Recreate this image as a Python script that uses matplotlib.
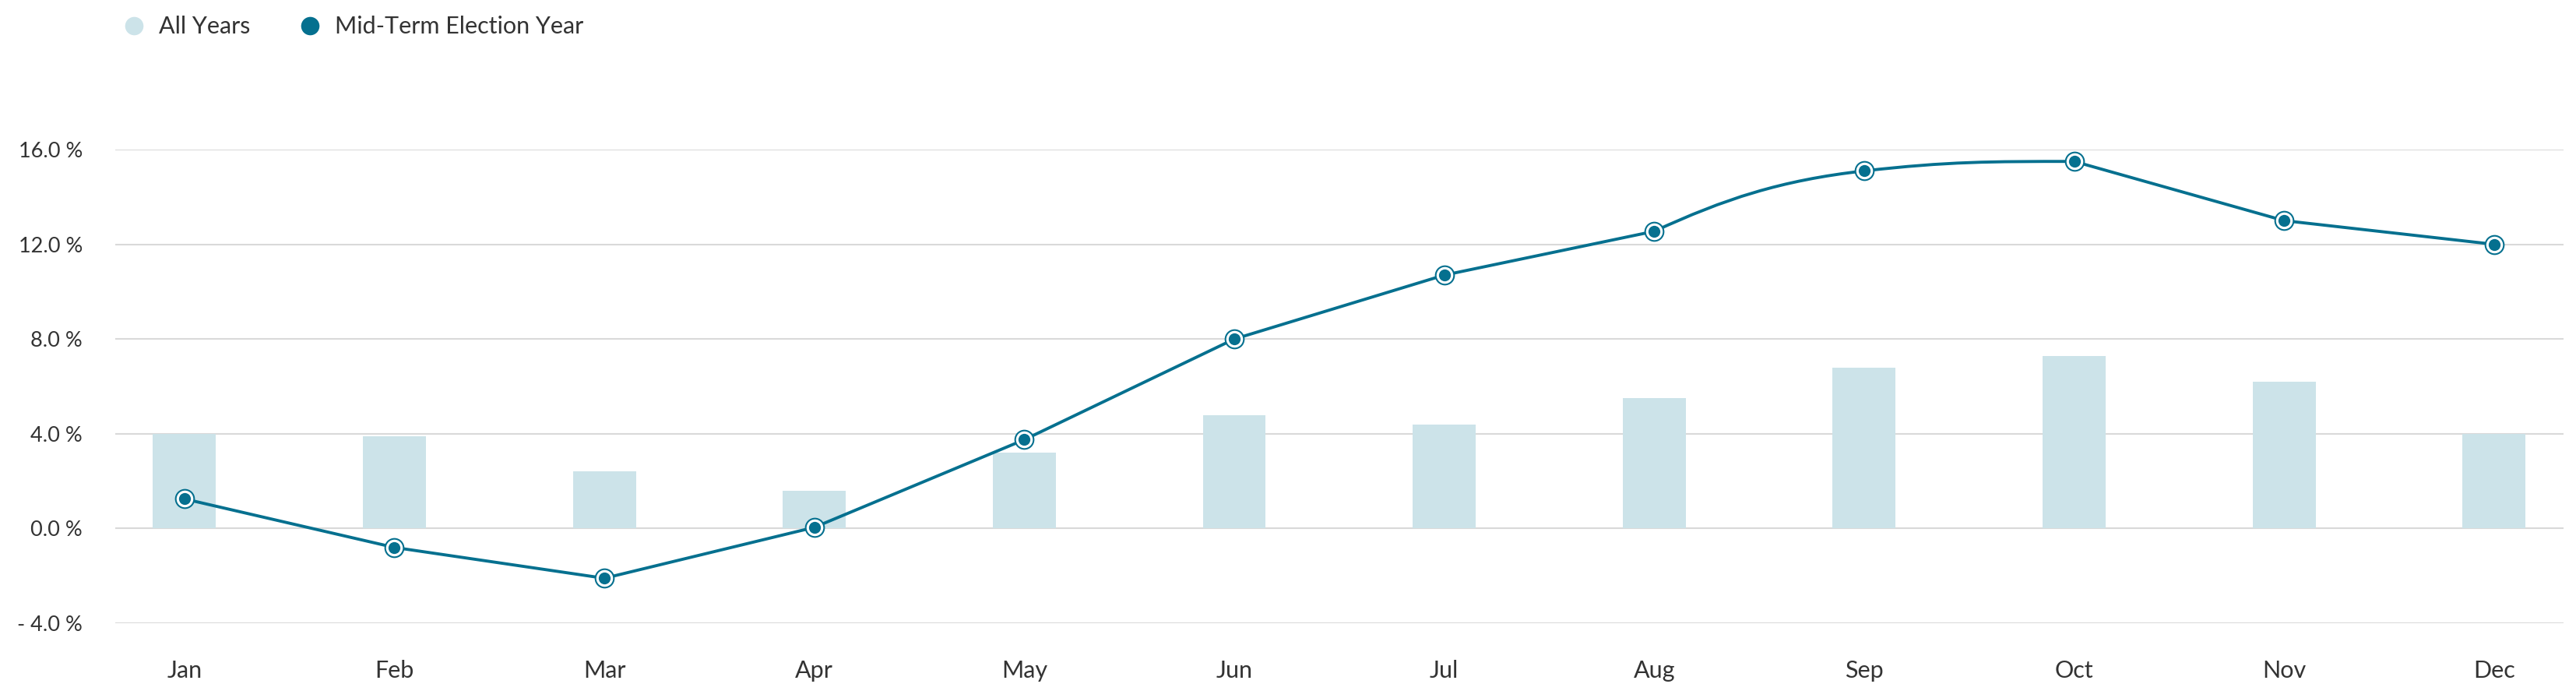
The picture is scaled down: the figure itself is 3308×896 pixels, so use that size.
"""Seasonality: all years vs mid-term election year"""

import numpy as np
import matplotlib.pyplot as plt
from matplotlib.path import Path
from matplotlib.patches import PathPatch
from matplotlib.lines import Line2D
from matplotlib.ticker import FuncFormatter

months = ["Jan", "Feb", "Mar", "Apr", "May", "Jun", "Jul", "Aug", "Sep", "Oct", "Nov", "Dec"]
all_years = [4.0, 3.9, 2.4, 1.6, 3.2, 4.8, 4.4, 5.5, 6.8, 7.3, 6.2, 4.0]
midterm = [1.25, -0.8, -2.1, 0.05, 3.75, 8.0, 10.7, 12.55, 15.1, 15.5, 13.0, 12.0]
y_ticks = [-4, 0, 4, 8, 12, 16]

# segments (start index) that are drawn curved in the original, the rest are straight
curved_segments = [7, 8]

DARK = "#05708f"
LIGHT = "#cce3e9"
GRID = "#d9d9d9"
TEXT = "#333333"

plt.rcParams["font.family"] = ["Lato", "DejaVu Sans"]


def control_points(xs, ys, smoothing=1.5):
    """left/right bezier handles per point (Highcharts spline rule)"""
    n = len(xs)
    left = [(xs[i], ys[i]) for i in range(n)]
    right = [(xs[i], ys[i]) for i in range(n)]
    denom = smoothing + 1
    for i in range(1, n - 1):
        px, py = xs[i], ys[i]
        lx, ly = xs[i - 1], ys[i - 1]
        nx, ny = xs[i + 1], ys[i + 1]
        lcx = (smoothing * px + lx) / denom
        lcy = (smoothing * py + ly) / denom
        rcx = (smoothing * px + nx) / denom
        rcy = (smoothing * py + ny) / denom
        corr = (rcy - lcy) * (rcx - px) / (rcx - lcx) + py - rcy
        lcy += corr
        rcy += corr
        if lcy > ly and lcy > py:
            lcy = max(ly, py)
            rcy = 2 * py - lcy
        elif lcy < ly and lcy < py:
            lcy = min(ly, py)
            rcy = 2 * py - lcy
        if rcy > ny and rcy > py:
            rcy = max(ny, py)
            lcy = 2 * py - rcy
        elif rcy < ny and rcy < py:
            rcy = min(ny, py)
            lcy = 2 * py - rcy
        left[i] = (lcx, lcy)
        right[i] = (rcx, rcy)
    return left, right


def line_path(xs, ys, curved):
    left, right = control_points(xs, ys)
    verts = [(xs[0], ys[0])]
    codes = [Path.MOVETO]
    for i in range(1, len(xs)):
        p0 = (xs[i - 1], ys[i - 1])
        p1 = (xs[i], ys[i])
        if (i - 1) in curved:
            if (i - 2) in curved:
                c0 = right[i - 1]
            else:
                # coming out of a straight piece: start along the chord
                c0 = (p0[0] + (p1[0] - p0[0]) / 3, p0[1] + (p1[1] - p0[1]) / 3 * 1.6)
            verts += [c0, left[i], p1]
            codes += [Path.CURVE4] * 3
        else:
            verts.append(p1)
            codes.append(Path.LINETO)
    return Path(verts, codes)


def pct(v, _pos):
    if v < 0:
        return f"- {abs(v):.1f} %"
    return f"{v:.1f} %"


x = np.arange(len(months))

fig = plt.figure(figsize=(33.08, 8.96), dpi=100)
ax = fig.add_axes([0.0447, 0.1071, 0.9504, 0.6786])

ax.bar(x, all_years, width=0.3, color=LIGHT, zorder=2)

ax.add_patch(PathPatch(line_path(x.astype(float), midterm, curved_segments), facecolor="none",
                       edgecolor=DARK, linewidth=2.8, zorder=3, clip_on=False,
                       joinstyle="round", capstyle="round"))
ax.plot(x, midterm, linestyle="none", marker="o", markersize=17, markerfacecolor="white",
        markeredgecolor=DARK, markeredgewidth=1.5, zorder=4, clip_on=False)
ax.plot(x, midterm, linestyle="none", marker="o", markersize=11, markerfacecolor=DARK,
        markeredgewidth=0, zorder=5, clip_on=False)

ax.set_xlim(-0.33, 11.33)
ax.set_ylim(-4, 16)
ax.set_yticks(y_ticks)
ax.yaxis.set_major_formatter(FuncFormatter(pct))
ax.set_xticks(x)
ax.set_xticklabels(months)

ax.grid(axis="y", color=GRID, linewidth=1.5, zorder=0)
ax.set_axisbelow(True)
for s in ax.spines.values():
    s.set_visible(False)
ax.tick_params(axis="both", length=0, labelcolor=TEXT)
ax.tick_params(axis="y", pad=30, labelsize=19.5)
ax.tick_params(axis="x", pad=34, labelsize=22)

handles = [
    Line2D([], [], linestyle="none", marker="o", markersize=17, markerfacecolor=LIGHT, markeredgewidth=0),
    Line2D([], [], linestyle="none", marker="o", markersize=17, markerfacecolor=DARK, markeredgewidth=0),
]
fig.legend(handles, ["All Years", "Mid-Term Election Year"], loc="upper left",
           bbox_to_anchor=(0.039, 1.008), ncol=2, frameon=False, fontsize=22,
           labelcolor=TEXT, handletextpad=0.55, columnspacing=2.0, handlelength=1.0)

fig.savefig("out.png", dpi=100, facecolor="white")
